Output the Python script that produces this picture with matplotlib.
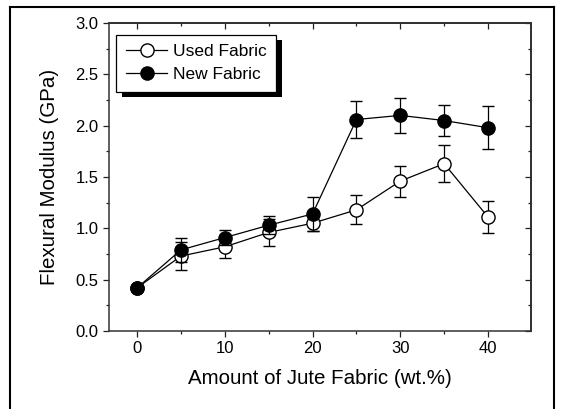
import matplotlib
matplotlib.use("Agg")
import matplotlib.pyplot as plt
from matplotlib.patches import Rectangle
from matplotlib.lines import Line2D
from matplotlib.ticker import MultipleLocator, NullFormatter

plt.rcParams['font.family'] = ['Liberation Sans', 'DejaVu Sans']

x = [0, 5, 10, 15, 20, 25, 30, 35, 40]
used = [0.42, 0.73, 0.82, 0.96, 1.05, 1.18, 1.46, 1.63, 1.11]
used_err = [0.0, 0.14, 0.11, 0.13, 0.08, 0.14, 0.15, 0.18, 0.16]
new = [0.42, 0.79, 0.91, 1.03, 1.14, 2.06, 2.10, 2.05, 1.98]
new_err = [0.0, 0.12, 0.07, 0.09, 0.17, 0.18, 0.17, 0.15, 0.21]

fig = plt.figure(figsize=(5.62, 4.09), dpi=100)
ax = fig.add_axes([109/562, 1-331/409, 422/562, 308/409])

ax.errorbar(x, used, yerr=used_err, color='black', lw=0.9, marker='o', ms=9.5,
            mfc='white', mec='black', mew=1.0, capsize=4.5, elinewidth=0.9,
            capthick=0.9, label='Used Fabric', zorder=3)
ax.errorbar(x, new, yerr=new_err, color='black', lw=0.9, marker='o', ms=9.5,
            mfc='black', mec='black', mew=1.0, capsize=4.5, elinewidth=0.9,
            capthick=0.9, label='New Fabric', zorder=4)

ax.set_xlim(-3.2, 44.9)
ax.set_ylim(0, 3.0)
ax.xaxis.set_major_locator(MultipleLocator(10))
ax.xaxis.set_minor_locator(MultipleLocator(5))
ax.yaxis.set_major_locator(MultipleLocator(0.5))
ax.yaxis.set_minor_locator(MultipleLocator(0.25))
ax.tick_params(which='both', direction='out', labelsize=12, width=0.9,
               color='#222222')
ax.tick_params(which='major', length=4)
ax.tick_params(which='minor', length=2.3)
for s in ax.spines.values():
    s.set_linewidth(1.1)
    s.set_color('#333333')

# top and right ticks point inward, no labels
top = ax.secondary_xaxis('top')
top.xaxis.set_major_locator(MultipleLocator(10))
top.xaxis.set_minor_locator(MultipleLocator(5))
top.xaxis.set_major_formatter(NullFormatter())
top.tick_params(which='both', direction='in', width=0.9, color='#222222')
top.tick_params(which='major', length=4.5)
top.tick_params(which='minor', length=2.3)
top.spines['top'].set_linewidth(1.1)
right = ax.secondary_yaxis('right')
right.yaxis.set_major_locator(MultipleLocator(0.5))
right.yaxis.set_minor_locator(MultipleLocator(0.25))
right.yaxis.set_major_formatter(NullFormatter())
right.tick_params(which='both', direction='in', width=0.9, color='#222222')
right.tick_params(which='major', length=4.5)
right.tick_params(which='minor', length=2.3)
right.spines['right'].set_linewidth(1.1)

ax.set_xlabel('Amount of Jute Fabric (wt.%)', fontsize=14.8, labelpad=9)
ax.set_ylabel('Flexural Modulus (GPa)', fontsize=14.8, labelpad=12)

handles = [Line2D([], [], color='black', lw=0.9, marker='o', ms=9.5, mfc='white', mec='black'),
           Line2D([], [], color='black', lw=0.9, marker='o', ms=9.5, mfc='black', mec='black')]
leg = ax.legend(handles, ['Used Fabric', 'New Fabric'], loc='upper left',
                bbox_to_anchor=(0.017, 0.962), fontsize=12.5, frameon=True,
                fancybox=False, edgecolor='black', framealpha=1,
                handlelength=2.4, handletextpad=0.3, borderpad=0.55,
                labelspacing=0.45, borderaxespad=0)
leg.get_frame().set_linewidth(0.9)
leg.set_zorder(10)

fig.canvas.draw()
bb = leg.get_window_extent().transformed(ax.transAxes.inverted())
dx = 6 / 422
dy = 5 / 308
ax.add_patch(Rectangle((bb.x0 + dx, bb.y0 - dy), bb.width, bb.height,
                       transform=ax.transAxes, facecolor='black',
                       edgecolor='none', zorder=9, clip_on=False))

# outer frame (left, top, right)
fig.add_artist(Line2D([10/562, 10/562], [0, 1-7/409], color='black', lw=1.5,
                      transform=fig.transFigure))
fig.add_artist(Line2D([10/562, 554/562], [1-7/409, 1-7/409], color='black', lw=1.5,
                      transform=fig.transFigure))
fig.add_artist(Line2D([554/562, 554/562], [0, 1-7/409], color='black', lw=1.5,
                      transform=fig.transFigure))

fig.savefig('out.png', dpi=100)
